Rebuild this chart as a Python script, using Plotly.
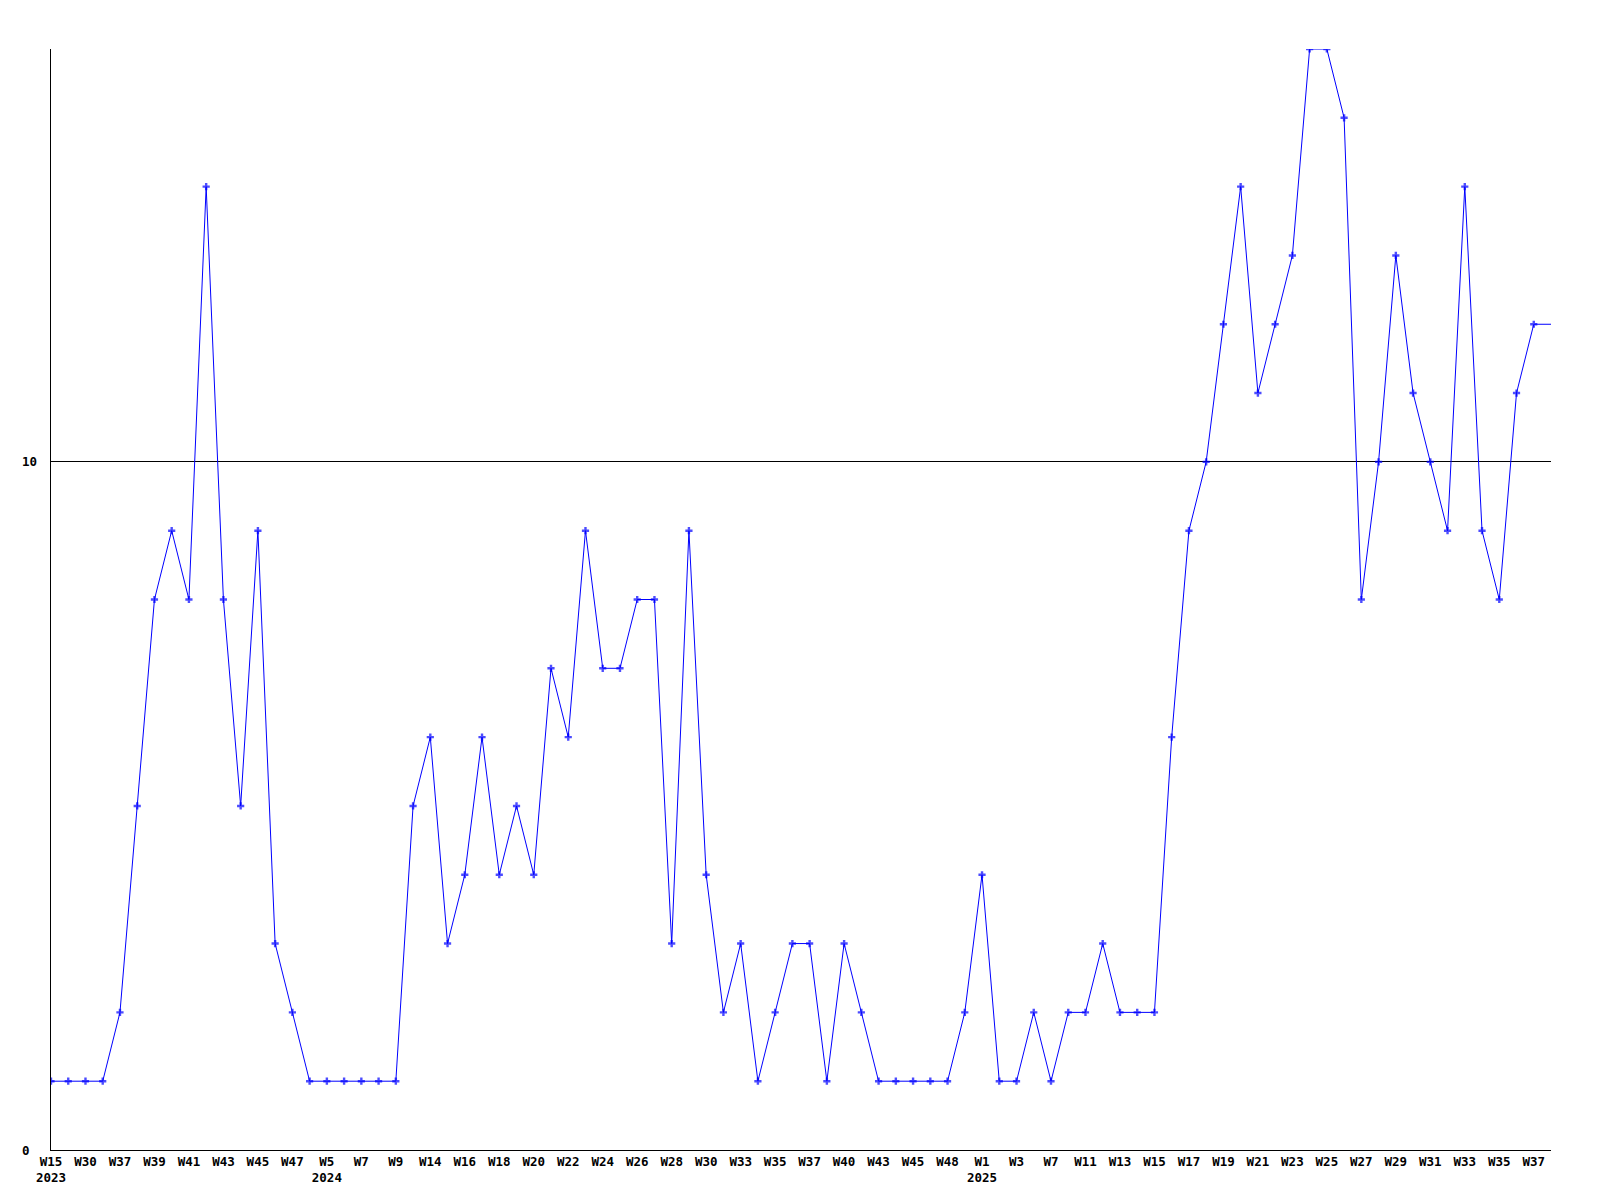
import plotly.graph_objects as go

values = [1, 1, 1, 1, 2, 5, 8, 9, 8, 14, 8, 5, 9, 3, 2, 1, 1, 1, 1, 1, 1, 5,
          6, 3, 4, 6, 4, 5, 4, 7, 6, 9, 7, 7, 8, 8, 3, 9, 4, 2, 3, 1, 2, 3,
          3, 1, 3, 2, 1, 1, 1, 1, 1, 2, 4, 1, 1, 2, 1, 2, 2, 3, 2, 2, 2, 6,
          9, 10, 12, 14, 11, 12, 13, 16, 16, 15, 8, 10, 13, 11, 10, 9, 14, 9,
          8, 11, 12, 12]

tick_labels = ["W15<br>2023", "W30", "W37", "W39", "W41", "W43", "W45", "W47",
               "W5<br>2024", "W7", "W9", "W14", "W16", "W18", "W20", "W22",
               "W24", "W26", "W28", "W30", "W33", "W35", "W37", "W40", "W43",
               "W45", "W48", "W1<br>2025", "W3", "W7", "W11", "W13", "W15",
               "W17", "W19", "W21", "W23", "W25", "W27", "W29", "W31", "W33",
               "W35", "W37"]

y_ticks = [0, 10]

x = list(range(len(values)))
tick_pos = [2 * i for i in range(len(tick_labels))]
marker_sizes = [6] * (len(values) - 1) + [0]

font = dict(family="DejaVu Sans Mono", size=12.5, color="black", weight="bold")

fig = go.Figure()
fig.add_trace(go.Scatter(
    x=x, y=values, mode="lines+markers",
    line=dict(color="#0000ff", width=1),
    marker=dict(symbol="cross", size=marker_sizes, color="#0000ff",
                line=dict(width=0)),
    hoverinfo="skip",
))

# left-aligned y tick labels, as in the reference
for v in y_ticks:
    fig.add_annotation(
        x=-0.0207, xref="paper", y=v, yref="y",
        text=str(v), showarrow=False, xanchor="left", yanchor="middle",
        font=font,
    )

fig.update_layout(
    width=1600, height=1200,
    margin=dict(l=43, r=57, t=41, b=58),
    plot_bgcolor="white", paper_bgcolor="white",
    showlegend=False,
    font=font,
    xaxis=dict(
        range=[0, len(values) - 1],
        tickmode="array", tickvals=tick_pos, ticktext=tick_labels,
        showgrid=False, zeroline=False,
        showline=True, linecolor="black", linewidth=1,
        ticks="", tickfont=font, tickangle=0,
    ),
    yaxis=dict(
        range=[0, 16],
        tickmode="array", tickvals=y_ticks,
        showgrid=True, gridcolor="black", gridwidth=1,
        zeroline=False, showticklabels=False,
        showline=True, linecolor="black", linewidth=1,
        ticks="",
    ),
)

fig.write_html("out.html")
